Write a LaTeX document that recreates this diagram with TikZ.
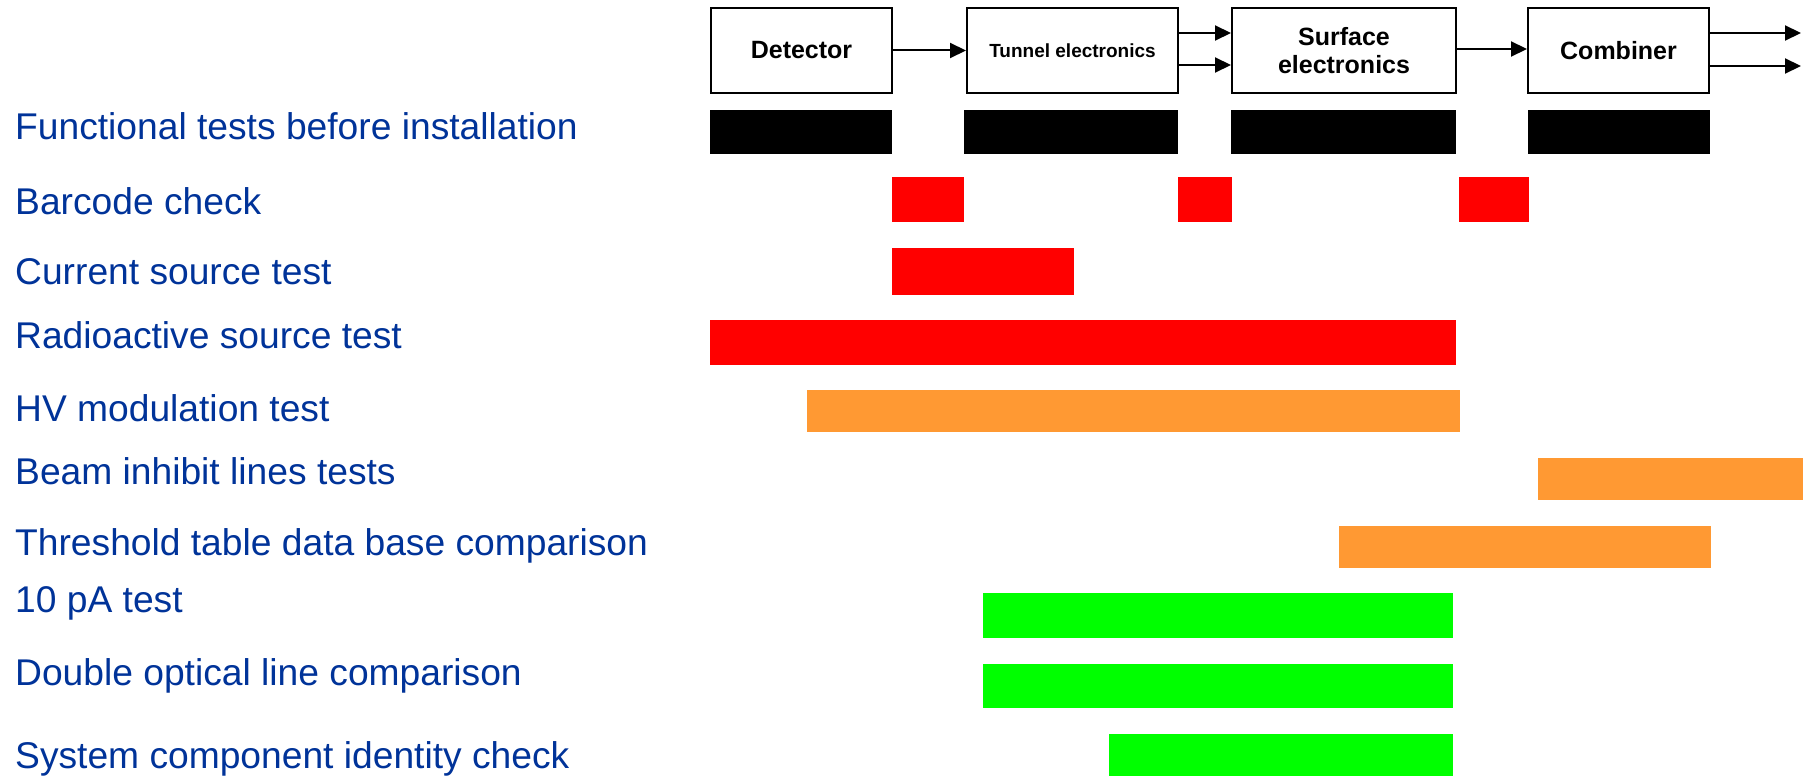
\documentclass[tikz,border=0pt]{standalone}
\usepackage{fontspec}
\setmainfont{Liberation Sans}
\usetikzlibrary{arrows.meta}
\definecolor{lblblue}{RGB}{0,51,153}
\definecolor{barred}{RGB}{255,0,0}
\definecolor{barorange}{RGB}{255,153,51}
\definecolor{bargreen}{RGB}{0,255,0}
\tikzset{
  box/.style={draw=black, line width=2pt, fill=white, inner sep=0pt, align=center,
    font=\bfseries\fontsize{25}{28}\selectfont, minimum height=85pt},
  lbl/.style={anchor=base west, inner sep=0pt, text=lblblue, font=\fontsize{37.2}{40}\selectfont},
  conn/.style={line width=2pt, -{Triangle[length=16pt,width=15pt]}},
}
\begin{document}
\begin{tikzpicture}[x=1pt,y=-1pt]
\useasboundingbox (0,0) rectangle (1803,776);
\fill[white] (0,0) rectangle (1803,776);
% boxes
\node[box, minimum width=181pt] (det) at (801.5,50.5) {Detector};
\node[box, minimum width=211pt, font=\bfseries\fontsize{19}{22}\selectfont] (tun) at (1072.5,50.5) {Tunnel electronics};
\node[box, minimum width=224pt] (sur) at (1344,50.5) {Surface\\electronics};
\node[box, minimum width=181pt] (com) at (1618.5,50.5) {Combiner};
% connectors
\draw[conn] (det.east) -- (tun.west);
\draw[conn] (tun.east |- 0,33) -- (sur.west |- 0,33);
\draw[conn] (tun.east |- 0,65) -- (sur.west |- 0,65);
\draw[conn] (sur.east |- 0,49) -- (com.west |- 0,49);
\coordinate (outA) at (1801,33);
\coordinate (outB) at (1801,66);
\draw[conn] (com.east |- outA) -- (outA);
\draw[conn] (com.east |- outB) -- (outB);
% bars
\fill[black] (710,110) rectangle (892,154);
\fill[black] (964,110) rectangle (1178,154);
\fill[black] (1231,110) rectangle (1456,154);
\fill[black] (1528,110) rectangle (1710,154);
\fill[barred] (892,177) rectangle (964,222);
\fill[barred] (1178,177) rectangle (1232,222);
\fill[barred] (1459,177) rectangle (1529,222);
\fill[barred] (892,248) rectangle (1074,295);
\fill[barred] (710,320) rectangle (1456,365);
\fill[barorange] (807,390) rectangle (1460,432);
\fill[barorange] (1538,458) rectangle (1803,500);
\fill[barorange] (1339,526) rectangle (1711,568);
\fill[bargreen] (983,593) rectangle (1453,638);
\fill[bargreen] (983,664) rectangle (1453,708);
\fill[bargreen] (1109,734) rectangle (1453,776);
% labels
\node[lbl] (l1) at (15,139) {Functional tests before installation};
\node[lbl] (l2) at (15,214) {Barcode check};
\node[lbl] (l3) at (15,284) {Current source test};
\node[lbl] (l4) at (15,348) {Radioactive source test};
\node[lbl] (l5) at (15,421) {HV modulation test};
\node[lbl] (l6) at (15,484) {Beam inhibit lines tests};
\node[lbl] (l7) at (15,555) {Threshold table data base comparison};
\node[lbl] (l8) at (15,612) {10 pA test};
\node[lbl] (l9) at (15,685) {Double optical line comparison};
\node[lbl] (l10) at (15,768) {System component identity check};
\end{tikzpicture}
\end{document}
